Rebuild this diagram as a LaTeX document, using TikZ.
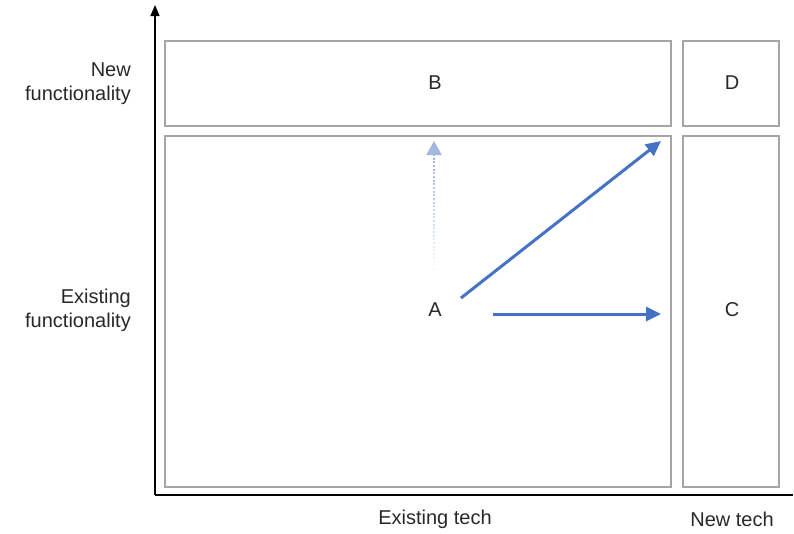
\documentclass[tikz,border=0pt]{standalone}
\usepackage{fontspec}
\setmainfont{Liberation Sans}
\definecolor{arrowblue}{RGB}{68, 114, 196}
\definecolor{boxgray}{RGB}{165, 165, 165}
\definecolor{textgray}{RGB}{40, 40, 40}
\usetikzlibrary{positioning, arrows.meta}

\begin{document}
\begin{tikzpicture}[x=1pt, y=-1pt,
    cell/.style={draw=boxgray, line width=1.5pt, inner sep=0pt},
    letter/.style={font=\fontsize{20}{24}\selectfont, text=textgray, inner sep=0pt},
    axislbl/.style={font=\fontsize{20}{24}\selectfont, text=textgray, align=right, inner sep=0pt},
    arr/.style={-{Triangle[length=15pt, width=14pt]}, line width=3pt, color=arrowblue},
    faint/.style={line width=2.6pt, dash pattern=on 2pt off 2pt},
  ]
    \useasboundingbox (0,0) rectangle (794,533);

    %% Axes
    \coordinate (org) at (155,495);
    \coordinate (ytop) at (155,5);
    \coordinate (xend) at (793,495);
    \draw[line width=1.5pt, -{Triangle[length=11pt, width=9pt]}] (org) -- (ytop);
    \draw[line width=1.5pt] (org) -- (xend);

    %% Quadrant boxes
    \node[cell, minimum width=506pt, minimum height=85pt] (boxb) at (418,83.5) {};
    \node[cell, minimum width=96pt, minimum height=85pt] (boxd) at (731,83.5) {};
    \node[cell, minimum width=506pt, minimum height=351pt] (boxa) at (418,311.5) {};
    \node[cell, minimum width=96pt, minimum height=351pt] (boxc) at (731,311.5) {};
    \node[letter] (b) at (435,83) {B};
    \node[letter] (d) at (732,83) {D};
    \node[letter] (a) at (435,310) {A};
    \node[letter] (c) at (732,310) {C};

    %% Axis labels
    \node[axislbl, anchor=east] (newfn) at (131,84) {New\\functionality};
    \node[axislbl, anchor=east] (exfn) at (131,310) {Existing\\functionality};
    \node[axislbl, align=center] (extech) at (435,519) {Existing tech};
    \node[axislbl, align=center] (newtech) at (732,519) {New tech};

    %% Moves
    \coordinate (diagend) at (661,141);
    \coordinate (horizend) at (661,314);
    \coordinate (upend) at (434,141);
    \draw[arr] ([shift={(26,-12)}]a.center) -- (diagend);
    \draw[arr] ([shift={(58,4)}]a.center) -- (horizend);
    % dotted move, fading out towards A
    \foreach \k in {0,...,9}
      \draw[faint, color=arrowblue!\the\numexpr 5+5*\k\relax]
        ([shift={(-1,-40-11*\k)}]a.center) -- ++(0,-11);
    \draw[faint, color=arrowblue!50, -{Triangle[length=14pt, width=15pt]}]
      ([shift={(-1,-150)}]a.center) -- (upend);
  \end{tikzpicture}
\end{document}
